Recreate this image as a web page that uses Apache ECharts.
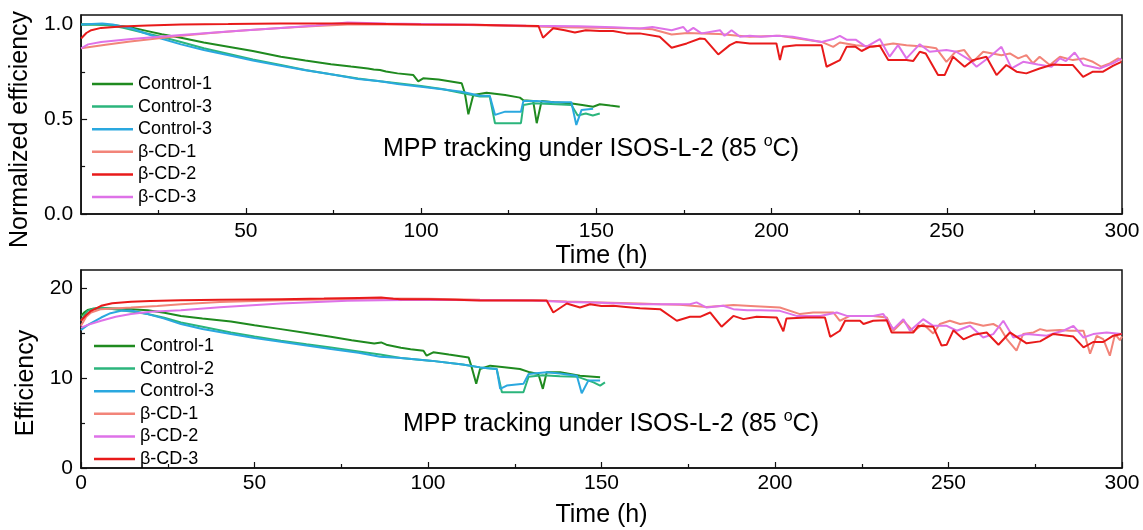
<!DOCTYPE html>
<html>
<head>
<meta charset="utf-8">
<script src="https://cdn.jsdelivr.net/npm/echarts@6/dist/echarts.min.js"></script>
<style>html,body{margin:0;padding:0;background:#fff}#c{width:1143px;height:530px}</style>
</head>
<body>
<div id="c"></div>
<script>
// ---------- DATA ----------
// Top panel: normalized efficiency, [time (h), value]
const topLabels = ['Control-1', 'Control-3', 'Control-3', 'β-CD-1', 'β-CD-2', 'β-CD-3'];
const nControl1 = [[3,1.0],[8,1.0],[13,0.995],[17,0.985],[22,0.965],[26,0.948],[31.5,0.93],[38,0.905],[45.8,0.88],[52,0.86],[60,0.83],[67,0.81],[74.3,0.79],[80,0.778],[84.8,0.768],[86.5,0.763],[88.3,0.76],[90,0.752],[93.3,0.742],[97.8,0.733],[99.2,0.70],[100.6,0.716],[105,0.71],[111.6,0.69],[112.5,0.637],[113.5,0.526],[114.9,0.628],[118.7,0.64],[124,0.628],[128.2,0.614],[129.2,0.60],[132,0.596],[133,0.479],[134.4,0.596],[138,0.59],[142.5,0.584],[146,0.575],[149.1,0.566],[151,0.579],[154,0.572],[156.7,0.566]];
const nControl2 = [[3,1.0],[7,1.0],[11.6,0.995],[15,0.982],[20,0.96],[25.8,0.935],[31.5,0.908],[38,0.875],[45.8,0.842],[52,0.815],[60,0.786],[67,0.76],[74.3,0.737],[82,0.715],[88.3,0.70],[93.3,0.69],[100,0.675],[106,0.66],[111.6,0.638],[116.8,0.62],[119.6,0.62],[121.1,0.479],[125,0.479],[128.5,0.479],[129.2,0.575],[132,0.584],[137,0.58],[142.9,0.575],[144.7,0.52],[147,0.53],[149,0.52],[151,0.53]];
const nControl3 = [[3,1.0],[6,1.003],[9,1.005],[12,1.0],[17.3,0.98],[21,0.955],[25.8,0.926],[31.5,0.895],[38,0.865],[45.8,0.835],[52,0.81],[60,0.782],[67,0.758],[74.3,0.737],[82,0.712],[88.3,0.70],[93.3,0.686],[100,0.672],[106,0.658],[111.6,0.645],[116.8,0.624],[119.6,0.624],[121.1,0.523],[124,0.54],[128.5,0.54],[129.2,0.596],[133,0.596],[138,0.59],[142.9,0.59],[144.3,0.47],[145.8,0.549],[149.1,0.555]];
const nBeta1 = [[3,0.874],[10,0.893],[17,0.91],[24,0.925],[31.5,0.94],[40,0.955],[50,0.97],[60,0.982],[70,0.992],[79,1.0],[90,1.0],[100,1.0],[110,0.998],[120,0.995],[130,0.99],[140,0.985],[150,0.983],[162.4,0.979],[166,0.975],[171.5,0.947],[176,0.955],[180,0.953],[185,0.95],[193.8,0.935],[202.4,0.94],[208,0.925],[214.3,0.908],[217.6,0.882],[219.5,0.905],[224,0.89],[228.9,0.882],[234.7,0.90],[238.5,0.891],[244.2,0.882],[247,0.874],[249.9,0.803],[252.5,0.856],[255,0.865],[257.5,0.803],[260.4,0.856],[263,0.847],[265.6,0.838],[268,0.847],[270.4,0.821],[272.7,0.838],[274.6,0.795],[276.5,0.83],[279.4,0.786],[282.3,0.83],[286,0.812],[289,0.821],[291.7,0.803],[294.1,0.777],[296.5,0.795],[298.9,0.821],[300,0.81]];
const nBeta2 = [[3,0.926],[4.5,0.955],[5.9,0.97],[8.7,0.982],[14.4,0.989],[22,0.995],[31.5,1.0],[45,1.002],[60,1.005],[80,1.005],[100,1.0],[115,0.998],[125,0.995],[133.5,0.992],[134.8,0.93],[137.7,0.98],[141,0.97],[143.9,0.958],[147,0.97],[151,0.965],[154.8,0.965],[158.6,0.953],[162.4,0.953],[168.1,0.935],[171.5,0.877],[175.8,0.90],[179.6,0.926],[181,0.923],[184.8,0.842],[188.1,0.891],[190,0.908],[193.8,0.90],[201.4,0.90],[202.4,0.812],[203.3,0.882],[207,0.891],[214.3,0.891],[215.7,0.777],[219.5,0.812],[221.4,0.882],[224,0.882],[225.7,0.86],[228,0.882],[230.9,0.888],[233.3,0.812],[238.5,0.812],[240.4,0.807],[242.3,0.856],[244,0.847],[247.5,0.733],[249.4,0.733],[251.8,0.83],[255.1,0.777],[257.5,0.812],[261.3,0.83],[264.2,0.733],[267,0.786],[269.9,0.751],[272.7,0.742],[276.5,0.768],[280.3,0.789],[283,0.786],[286,0.786],[288.9,0.724],[291.7,0.751],[294.6,0.751],[297.4,0.782],[299.8,0.803]];
const nBeta3 = [[3,0.874],[5,0.895],[8.7,0.908],[17.3,0.923],[31.5,0.944],[45,0.963],[60,0.982],[70,0.995],[79,1.01],[90,1.005],[100,1.003],[115,0.998],[130,0.993],[145,0.99],[155,0.985],[162.4,0.979],[166,0.987],[171.5,0.97],[174.8,0.987],[176,0.961],[177.7,0.982],[180,0.953],[185.3,0.97],[186.6,0.94],[188.6,0.97],[191,0.935],[193.8,0.94],[197,0.935],[201.4,0.94],[206,0.935],[214.3,0.908],[217.6,0.923],[219.5,0.94],[221.4,0.92],[224,0.92],[227,0.882],[230.9,0.923],[233.7,0.83],[236.1,0.891],[238.5,0.821],[242.3,0.896],[245.1,0.856],[249.9,0.865],[252.7,0.856],[256.6,0.812],[258.5,0.777],[262.3,0.83],[265.6,0.882],[268.5,0.768],[271.8,0.803],[276,0.789],[279.9,0.777],[282.3,0.821],[284,0.807],[286.5,0.852],[289,0.786],[293.6,0.768],[297.4,0.795],[299.8,0.82]];

// Bottom panel: efficiency (%), [time (h), value]
const bottomLabels = ['Control-1', 'Control-2', 'Control-3', 'β-CD-1', 'β-CD-2', 'β-CD-3'];
const eControl1 = [[0,16.9],[1,17.3],[1.9,17.55],[3.5,17.7],[5.8,17.76],[10,17.72],[14.4,17.65],[19.2,17.54],[24,17.25],[28.8,16.9],[35,16.6],[43.2,16.28],[50,15.85],[57.6,15.43],[65,15.0],[72,14.58],[78,14.2],[84.5,13.84],[86.5,13.95],[88,13.7],[92.2,13.35],[95,13.2],[98.7,13.03],[99.6,12.48],[101.5,12.85],[106,12.6],[111.7,12.29],[112.6,11.18],[113.9,9.35],[115,11.0],[117.9,11.37],[122,11.2],[126.5,11.0],[129.4,10.63],[131.8,10.45],[133.1,8.79],[134.2,10.63],[138.1,10.63],[143.8,10.26],[149.6,10.08]];
const eControl2 = [[0,16.36],[1,17.0],[1.9,17.46],[3.5,17.7],[5.8,17.83],[8.5,17.7],[11.5,17.54],[15,17.35],[19.2,17.1],[24,16.7],[28.8,16.17],[35,15.7],[43.2,15.06],[50,14.6],[57.6,14.14],[65,13.75],[72,13.4],[80,12.95],[86.2,12.6],[92.2,12.22],[100.6,11.93],[110,11.5],[115,11.18],[119.8,11.0],[121.3,8.42],[124,8.42],[127.5,8.42],[129,10.15],[133,10.3],[138,10.2],[143,10.15],[147.7,9.52],[149.6,9.16],[151,9.52]];
const eControl3 = [[0,15.33],[2,15.9],[5.8,16.72],[8.5,17.2],[11.5,17.46],[14.4,17.5],[19.2,17.1],[24,16.6],[28.8,15.99],[35,15.45],[43.2,14.88],[50,14.45],[57.6,14.03],[65,13.6],[72,13.22],[80,12.8],[86.2,12.37],[92.2,12.22],[100.6,11.93],[110,11.5],[115,11.18],[119.8,11.0],[120.8,8.79],[122.7,9.16],[127.5,9.35],[129,10.45],[134.2,10.63],[138,10.5],[142.9,10.26],[144.3,8.3],[146.2,9.71],[149.6,9.71]];
const eBeta1 = [[0,15.8],[1.5,16.8],[2.9,17.28],[5.8,17.65],[14.4,17.83],[22,18.0],[28.8,18.2],[40,18.45],[57.6,18.65],[75,18.75],[86.5,18.83],[100,18.8],[115,18.7],[130,18.65],[140,18.5],[150,18.4],[161.1,18.28],[166.9,18.2],[172.6,18.13],[180.3,17.9],[188,18.1],[193,18.0],[201.4,17.83],[207.2,17.1],[211,17.28],[216.8,17.28],[218.7,16.36],[221.6,16.9],[228.3,16.9],[232.2,16.72],[234.1,15.25],[237,16.36],[239.9,15.17],[242.7,16.0],[245.6,14.95],[247.5,16.0],[250.4,16.36],[253.3,16.0],[256.2,16.17],[260,15.8],[262.9,16.0],[264.8,15.6],[266.8,14.33],[269.6,13.03],[271.5,14.88],[274.5,15.06],[276.4,15.43],[278.3,15.25],[282.1,15.33],[285,15.25],[288.9,15.25],[290.8,12.7],[292.7,14.69],[294.6,14.33],[296.5,12.48],[298,14.88],[299.4,14.2],[300,14.6]];
const eBeta2 = [[0,15.6],[2,15.9],[5.8,16.36],[10,16.8],[14.4,17.1],[20,17.35],[28.8,17.54],[40,17.85],[57.6,18.28],[76.8,18.57],[86.5,18.65],[100,18.7],[115,18.65],[130,18.6],[140,18.45],[150,18.35],[161.1,18.2],[175.5,18.2],[177.4,18.4],[180.3,17.83],[185.1,18.02],[188,17.65],[192,17.54],[195.7,17.54],[201.4,17.46],[206.2,16.9],[213,16.9],[217.8,17.28],[220.7,16.9],[228.3,16.9],[231.2,17.1],[234.1,15.43],[237,16.54],[238.9,15.25],[242.7,16.54],[245.6,15.8],[249.5,15.8],[252.4,15.25],[256.2,15.8],[260,14.5],[262.9,14.88],[265.8,16.36],[268.7,14.5],[272.5,14.88],[278.3,14.69],[281.2,15.06],[283.1,15.25],[286,15.8],[288.9,14.5],[291.7,14.88],[295.6,15.06],[299.9,14.88]];
const eBeta3 = [[0,16.36],[1.5,17.0],[2.9,17.46],[5.8,18.02],[9,18.3],[14.4,18.46],[20,18.55],[28.8,18.65],[40,18.7],[57.6,18.76],[70,18.82],[80,18.9],[86.5,18.94],[90,18.8],[92.2,18.76],[100.6,18.76],[108,18.7],[115,18.6],[125,18.62],[134.2,18.6],[136.1,17.28],[140,18.28],[143.8,17.83],[146.7,18.2],[150,18.0],[153.4,18.02],[157,17.9],[161.1,17.76],[166.9,17.65],[171.7,16.36],[175.5,16.8],[178.4,16.8],[181.3,17.28],[184.6,15.7],[188,16.9],[190.9,16.54],[194.7,16.8],[200.5,16.72],[202.4,15.2],[203.3,16.6],[209,16.72],[214.4,16.72],[215.9,14.58],[218.7,15.25],[220.2,16.36],[224.5,16.36],[225.5,16.0],[228.3,16.36],[232.2,16.43],[233.6,15.06],[239.9,15.06],[241.3,15.8],[245.6,15.7],[248,13.6],[249.5,13.7],[251.4,15.3],[254.3,14.3],[257.2,14.8],[261,15.06],[264.4,13.7],[267.7,15.06],[272.5,13.85],[276.4,14.07],[280.2,14.9],[286,14.6],[288.9,13.4],[291.7,14.0],[294.6,14.0],[297.5,14.7],[299.9,14.9]];

// Tick values
const topXLabels = [50, 100, 150, 200, 250, 300];
const topXMinor = [25, 75, 125, 175, 225, 275];
const topYLabels = [0, 0.5, 1.0];
const topYMinor = [0.25, 0.75];
const botXLabels = [0, 50, 100, 150, 200, 250, 300];
const botXMinor = [25, 75, 125, 175, 225, 275];
const botYLabels = [0, 10, 20];
const botYMinor = [5, 15];

// ---------- STYLE ----------
const FONT = '"Liberation Sans", Arial, sans-serif';
const topColors = ['#1f8a1f', '#2bb57c', '#2aa8df', '#f28479', '#e81a1a', '#de72e8'];
const botColors = ['#1f8a1f', '#2bb57c', '#2aa8df', '#f28479', '#de72e8', '#e81a1a'];
const annotation = '{a|MPP tracking under ISOS-L-2 (85 }{s|o}{a|C)}';

const chart = echarts.init(document.getElementById('c'), null, {renderer: 'canvas'});

function mainX(grid, min, labels, margin, nameGap) {
  return {
    type: 'value', gridIndex: grid, min: min, max: 300, position: 'bottom',
    axisLine: {lineStyle: {color: '#111', width: 1.5}},
    axisTick: {inside: true, length: 6, lineStyle: {color: '#111', width: 1.2}, customValues: labels},
    axisLabel: {customValues: labels, color: '#000', fontSize: 21, fontFamily: FONT, margin: margin},
    splitLine: {show: false},
    name: 'Time (h)', nameLocation: 'middle', nameGap: nameGap,
    nameTextStyle: {color: '#000', fontSize: 25, fontFamily: FONT}
  };
}
function minorX(grid, min, ticks) {
  return {
    type: 'value', gridIndex: grid, min: min, max: 300, position: 'bottom',
    axisLine: {show: false},
    axisTick: {inside: true, length: 4, lineStyle: {color: '#111', width: 1.2}, customValues: ticks},
    axisLabel: {show: false}, splitLine: {show: false}
  };
}
function mainY(grid, max, labels, fmt, name, pad) {
  return {
    type: 'value', gridIndex: grid, min: 0, max: max, position: 'left',
    axisLine: {show: true, lineStyle: {color: '#111', width: 1.5}},
    axisTick: {show: true, inside: true, length: 6, lineStyle: {color: '#111', width: 1.2}, customValues: labels},
    axisLabel: {customValues: labels, formatter: fmt, color: '#000', fontSize: 21, fontFamily: FONT, margin: 8},
    splitLine: {show: false},
    name: name, nameLocation: 'middle', nameGap: 41,
    nameTextStyle: {color: '#000', fontSize: 25, fontFamily: FONT, padding: pad}
  };
}
function minorY(grid, max, ticks) {
  return {
    type: 'value', gridIndex: grid, min: 0, max: max, position: 'left', offset: 0,
    axisLine: {show: false},
    axisTick: {show: true, inside: true, length: 4, lineStyle: {color: '#111', width: 1.2}, customValues: ticks},
    axisLabel: {show: false}, splitLine: {show: false}
  };
}

const topData = [nControl1, nControl2, nControl3, nBeta1, nBeta2, nBeta3];
const botData = [eControl1, eControl2, eControl3, eBeta1, eBeta2, eBeta3];
const topIds = topLabels.map((l, i) => 't' + i);
const botIds = bottomLabels.map((l, i) => 'b' + i);
const nameMap = {};
topIds.forEach((id, i) => nameMap[id] = topLabels[i]);
botIds.forEach((id, i) => nameMap[id] = bottomLabels[i]);

const drawOrder = [0, 1, 2, 3, 5, 4];
const series = [];
topData.forEach((d, i) => series.push({
  name: topIds[i], type: 'line', xAxisIndex: 0, yAxisIndex: 0, data: d,
  symbol: 'none', smooth: false, z: 2 + drawOrder.indexOf(i),
  lineStyle: {color: topColors[i], width: 2}, itemStyle: {color: topColors[i]}
}));
botData.forEach((d, i) => series.push({
  name: botIds[i], type: 'line', xAxisIndex: 2, yAxisIndex: 2, data: d,
  symbol: 'none', smooth: false, z: 2 + i,
  lineStyle: {color: botColors[i], width: 2}, itemStyle: {color: botColors[i]}
}));

const legendBase = {
  orient: 'vertical', padding: 0, icon: 'rect', itemWidth: 41, itemHeight: 2.5, itemGap: 4.6,
  textStyle: {color: '#000', fontSize: 18, fontFamily: FONT, lineHeight: 18},
  formatter: n => nameMap[n], selectedMode: false
};

const richStyle = {
  a: {fontSize: 25, fontFamily: FONT, fill: '#000', color: '#000', lineHeight: 30},
  s: {fontSize: 16, fontFamily: FONT, fill: '#000', color: '#000', verticalAlign: 'top', lineHeight: 14}
};

chart.setOption({
  backgroundColor: '#fff',
  animation: false,
  grid: [
    {left: 81, top: 15, width: 1041, height: 199, show: true, borderColor: '#111', borderWidth: 1.5, backgroundColor: 'transparent'},
    {left: 81, top: 270, width: 1041, height: 198, show: true, borderColor: '#111', borderWidth: 1.5, backgroundColor: 'transparent'}
  ],
  xAxis: [
    mainX(0, 3, topXLabels, 7, 30),
    minorX(0, 3, topXMinor),
    mainX(1, 0, botXLabels, 5, 35),
    minorX(1, 0, botXMinor)
  ],
  yAxis: [
    mainY(0, 1.05, topYLabels, v => v.toFixed(1), 'Normalized efficiency', [0, 30, 0, 0]),
    minorY(0, 1.05, topYMinor),
    mainY(1, 22, botYLabels, v => String(v), 'Efficiency', [0, 28, 0, 0]),
    minorY(1, 22, botYMinor)
  ],
  legend: [
    Object.assign({}, legendBase, {data: topIds, left: 92, top: 75}),
    Object.assign({}, legendBase, {data: botIds, left: 94, top: 337})
  ],
  graphic: [
    {type: 'text', left: 383, top: 134, z: 100, style: {text: annotation, rich: richStyle, fill: '#000'}},
    {type: 'text', left: 403, top: 409, z: 100, style: {text: annotation, rich: richStyle, fill: '#000'}}
  ],
  series: series
});
</script>
</body>
</html>
